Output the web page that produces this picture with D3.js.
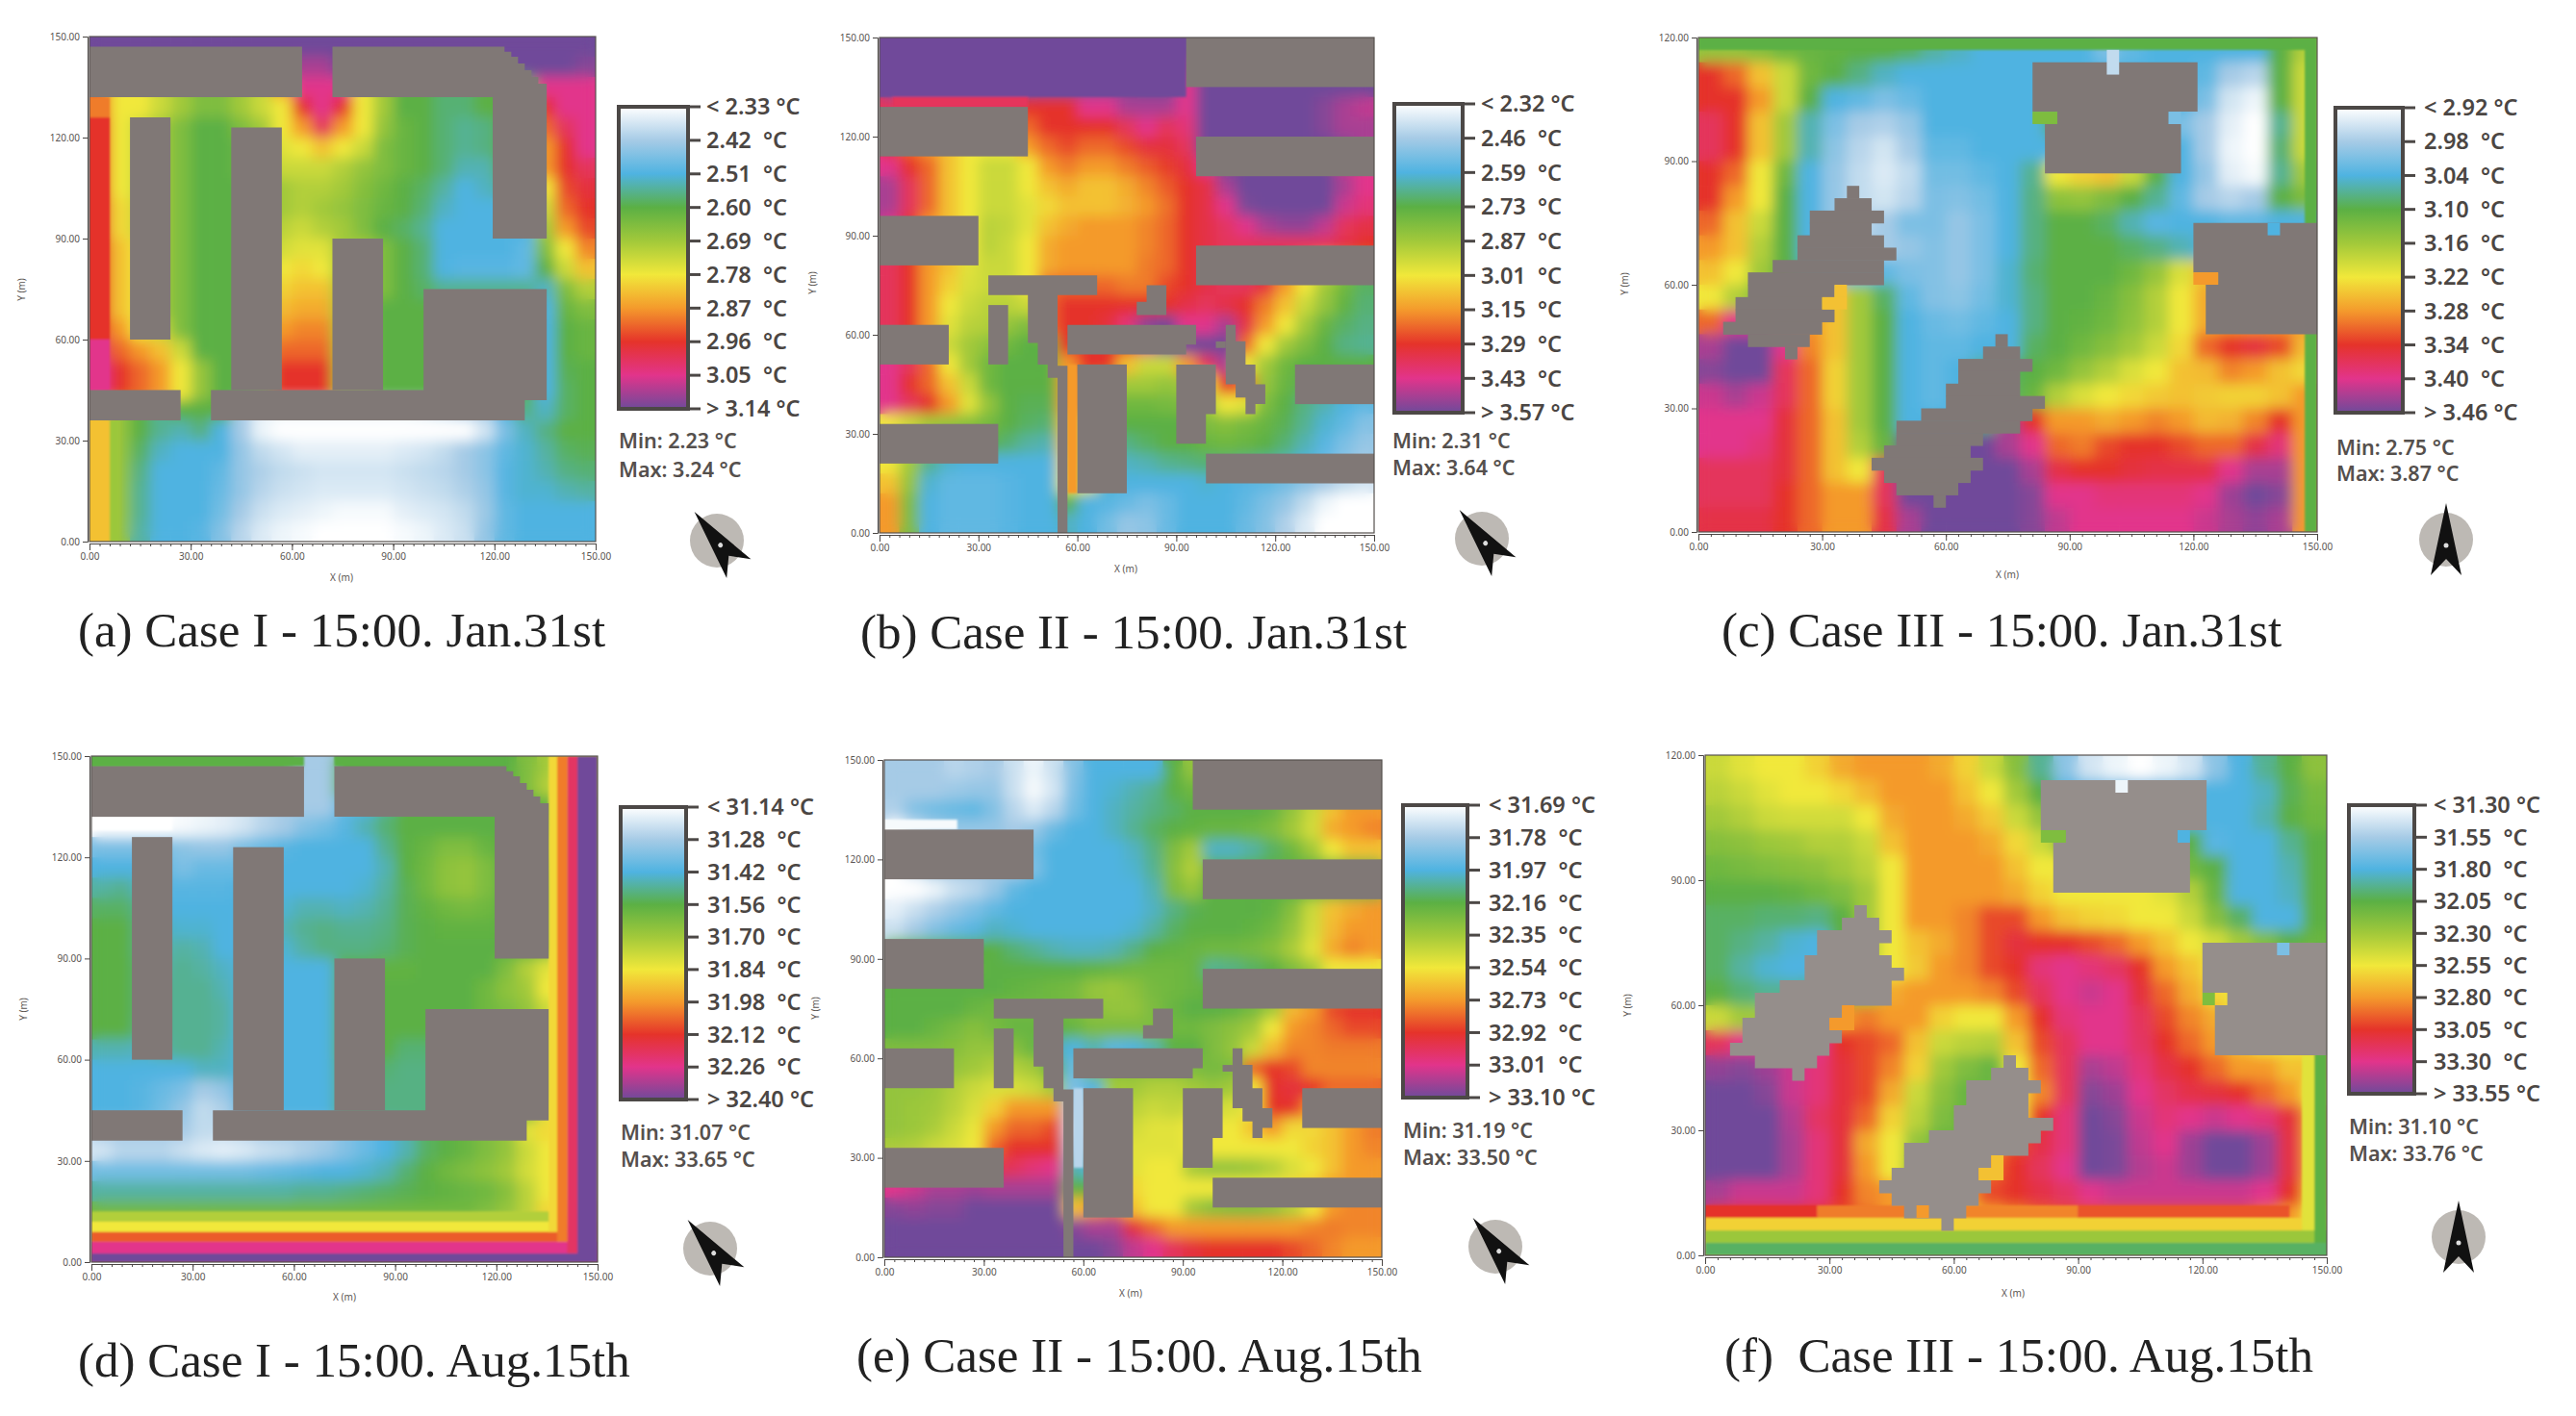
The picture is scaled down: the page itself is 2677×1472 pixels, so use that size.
<!doctype html>
<html lang="en">
<head>
<meta charset="utf-8">
<title>Air temperature maps, Case I to III</title>
<style>
body { margin: 0; background: #fff; }
svg { display: block; }
.axis text { font-family: "Noto Sans", sans-serif; font-size: 10px; fill: #5a5552; }
.axis path, .axis line { stroke: #4a4644; }
.title { font-family: "Noto Sans", sans-serif; font-size: 10px; fill: #5a5552; text-anchor: middle; }
.lg { font-family: "Noto Sans", sans-serif; font-size: 23.5px; font-weight: 600; fill: #4b4643; white-space: pre; }
.mm { font-family: "Noto Sans", sans-serif; font-size: 21.5px; font-weight: 600; fill: #55504d; }
.cap { font-family: "Liberation Serif", serif; font-size: 51px; fill: #222; white-space: pre; }
</style>
</head>
<body>
<svg id="fig" width="2677" height="1472"></svg>
<script src="https://d3js.org/d3.v7.min.js"></script>
<script>
// grids: reading of each 6 m cell as a position on that panel's legend,
// 0 = first tick (white end), 9 = last tick (purple end). Rows run from the top of the plot down.
var gridA = [
[9,9,9,9,9,9,9,9,9,9,9,9,9,9,9,9,9,9,9,9,9,9,9,9,9],
[9,9,9,9,9,9,9,9,9,9,8.5,8.5,9,9,9,9,9,9,9,9,9,9,9,9,8.8],
[6.5,5,5,4.5,4,3.5,3.5,4,4.5,6,8,8,8,5,4,3,3,2.7,2.7,3,3,3,8,8,8],
[6.5,5,5,4.5,4,3.5,3.5,4,4.5,5,7,8,7,5,4,3,3,2.7,2.7,3,3,3,7,8,8],
[7,5,4.5,4,3.5,3,3,3.5,4,5,6,7.5,6,5,3.8,3.2,3,2.7,2.5,2.6,3,3,6.5,7.5,8],
[7,5,4.5,4,3.5,3,3,3.2,3.5,4.8,5,5.5,5,4.5,3.5,3.2,3,2.7,2.5,2.6,3,3,6,7,8],
[7,5,4.5,4,3.5,3,3,3.2,3.5,4.5,4.5,4.5,4.2,3.8,3.5,3.2,3,2.7,2.3,2.3,3,3,6,7,7.5],
[7,5,4.5,4,3.5,3,3,3,3.5,4,4.2,4.2,4,3.6,3.3,3,2.8,2.4,2,2.2,2.5,2.5,5,6.8,7.2],
[7,5.2,4.5,4,3.5,3,3,3,3.5,4,4.2,4,3.8,3.5,3.2,3,2.7,2.2,2,2,2,2,4.5,6.5,7],
[7,5.2,4.5,4,3.5,3,3,3,3.5,4.3,4.5,4.2,4,3.5,3,2.8,2.5,2,2,2,2,2,4,6,6.8],
[7,5.5,5,4,3.5,3,3,3,3.5,4.6,4.8,4.8,4,4,3.5,3,2.7,2,2,2,2,1.8,3.5,5,6.2],
[7,5.5,5,4,3.5,3,3,3,3.5,5,5.2,5,4,4,3.5,3,2.7,2,1.9,1.9,1.9,1.8,3,4.5,5.5],
[7,5.5,5,4,3.5,3,3,3,3.5,5.3,5.5,5.5,4,4,3.5,3,2.8,2.5,2.5,2.5,2.5,2.5,2.2,3.5,4.2],
[7,5.5,5,4,3.5,3,3,3,3.5,5.6,5.8,5.8,4,4,3,3,3,3,3,3,3,3,2,3.2,3.5],
[7,6,5,4.5,3.5,3,3,3,3.5,6,6.2,6.2,4,4,3,3,3,3,3,3,3,3,2,3,3.2],
[7.5,6.5,6,5.5,4.5,3,3,3,3.5,6.5,6.5,6.5,4,4,3,3,3,3,3,3,3,3,2,3,3.2],
[8,7,6.5,6,5,3.8,3,3,3.5,7,7,7,4,4,3,3,3,3,3,3,3,3,2,2.9,3],
[8,7,6.5,6,5,3.8,3,3,3.5,7,7,7,4,4,3,3,3,3,3,3,3,3,2,2.8,3],
[5.5,3.8,3,2.5,3,3,3,1,0.3,0.2,0.2,0.2,0.2,0.2,0.2,0.2,0.3,0.5,0.8,1,2,2.6,2.2,2.8,3],
[5.5,3.8,3,2.5,2.3,2.6,2,1,0.2,0,0,0,0,0,0,0,0,0,0,0.5,1.5,2.2,2.6,3,3],
[5.5,3.8,2.8,2.2,2,2,2,1.2,0.7,0.5,0.3,0.3,0.3,0.3,0.3,0.4,0.5,0.7,1,1.3,1.8,2.1,2.4,2.8,2.9],
[5.5,3.8,2.6,2,2,2,1.8,1.2,0.9,0.7,0.6,0.5,0.5,0.5,0.5,0.6,0.7,0.8,1,1.3,1.9,2.1,2.3,2.6,2.7],
[5.5,3.8,2.5,2,2,2,1.7,1.2,0.8,0.6,0.5,0.4,0.4,0.4,0.4,0.5,0.6,0.7,0.9,1.2,1.9,2.1,2.1,2.3,2.4],
[5.5,3.8,2.5,2,2,2,1.6,1,0.6,0.4,0.3,0.2,0.1,0.1,0.1,0.3,0.4,0.5,0.7,1.1,1.8,2,2,2,2],
[5.5,3.8,2.4,2,2,1.9,1.4,0.8,0.4,0.2,0.1,0,0,0,0,0.1,0.2,0.4,0.6,1.2,1.8,2,2,2,2]
];
var gridB = [
[9,9,9,9,9,9,9,9,9,9,9,9,9,9,9,9,9,9,9,9,9,9,9,9,9],
[9,9,9,9,9,9,9,9,9,9,9,9,9,9,9,8.5,9,9,9,9,9,9,9,9,9],
[9,9,9,9,9,9,9,9,8.8,8.8,8.8,8.8,8.8,9,9,8,9,9,9,9,9,9,9,9,9],
[7.5,7.5,7.5,7.5,7.5,7.5,7.5,7,7,7,8,8,8.5,8.5,8.5,8,9,9,9,9,9,9,8.8,8.5,8.3],
[7.5,7.5,7.5,7.5,7.5,7,6.8,6.5,7,7,7,7,7.5,8,7.5,7.8,9,9,9,9,9,9,8.8,8.5,8.5],
[7,6.5,6,5.5,5,5,5,6,6.5,6.8,6.5,6.5,6.8,7.2,7.2,7.5,9,9,9,9,9,9,9,8.8,8.5],
[8,7,6.5,5.5,5,4.5,4.5,5,6,6.3,6,6,6.3,6.6,6.9,7.2,8,9,9,9,9,9,9,8.3,8],
[8.5,7.5,6.5,5.5,5,4.5,4.5,5,5.5,5.8,5.5,5.5,5.8,6.2,6.6,7,7.3,8.5,9,9,9,9,9,8.5,8],
[8.5,7.5,6.5,5.5,5,4.5,4.5,4.8,5.2,5.5,5.5,5.5,5.7,6,6.4,7,7.3,8,8.9,9,9,9,9,8.2,7.8],
[8,7,6,5.5,5,4.3,4.4,4.8,5.5,5.8,6,6,6,6.2,6.5,7,7.3,7.6,8,8.5,8.7,8.7,8.3,7.5,7.3],
[8,7,6,5.5,5,4.3,4.5,5,5.8,6,6,6,6,6.2,6.5,7,7.3,7.5,7.5,7.5,7.5,7.5,7.5,7.3,7],
[7.5,7,6,5.5,4.8,4.5,4.5,5,5.8,6,6,6,6,6.3,6.5,7,7.3,7.5,7.5,7.5,7,6,5,4,3],
[7.5,7,6,5.3,4.7,4.5,4.5,5,6.5,6.5,6.5,6.5,6.3,6.3,6.8,7,7.3,7.5,7.5,7.2,6,5,4,3.3,2.8],
[7.5,7,6,5,4.5,4.3,4.3,4.5,6.5,7,7,7,7,7,7,7.3,7.5,7.3,7,6.3,5.5,4.5,3.8,3.1,2.7],
[7.5,7,6,4.8,4.3,4.2,3.8,3.5,6.5,7,7,7.2,7.8,8.8,9,8,8,8.5,7.3,6,5,4,3.2,2.8,2.6],
[7.5,7,6,4.5,4,3.7,3.3,3,3,7,7,7,7,8,9,9,9,9,6.5,5,4,3.5,3,2.6,2.5],
[8,7.5,6.5,5,4,3.3,3,3,3,6,7,7,5.5,4.5,4.5,6,7.5,8.5,5,4,3.3,3,3,3,3],
[8,7,6.5,5.5,4.5,3.3,3,3,3,6,6,4,4,4,3.8,4,5,7,6.5,3.8,3.2,2.9,2.9,2.9,2.9],
[8,7.5,7,6,4.8,3.8,3,2.9,2.9,6,6,3.5,3.3,3.3,3.4,3.5,4,5,4.8,3.5,3,2.6,2.3,2,1.8],
[5,4.5,4,3.8,3.6,3.4,3,2.8,2.7,5.5,5,3,3,3,3,3,3.5,3.6,3.4,3.2,2.9,2.5,2.1,1.8,1.4],
[4.5,4,3.5,3,3,3,2.7,2.4,2.3,5.5,5,2.6,2.6,2.8,3,3,3.2,3.3,3.2,3,2.7,2.3,1.9,1.5,1.2],
[5,4,2.5,2.1,2,2,2,2,2,5.2,5,2.2,2.2,2.3,2.5,2.6,2.7,2.7,2.6,2.5,2.3,2,1.7,1.3,1],
[5.5,3.8,2.1,1.8,1.8,1.8,1.9,2,2,5,4.8,2.1,2,2,2,2,2.1,2,1.9,1.8,1.6,1.3,1,0.7,0.5],
[6,3.5,2,1.8,1.8,1.8,1.9,2,2,3,2,1.9,1.7,1.5,1.7,2,2,2,1.8,1.5,1.2,0.7,0.2,0,0],
[6,3.5,2,1.8,1.8,1.8,1.9,2,2,2.2,2,1.6,1.2,1.3,1.7,2,2,2,1.7,1.4,0.9,0.4,0,0,0]
];
var gridC = [
[3.8,3.8,3.6,3.3,3.2,3.1,3,3,2.8,2.4,2.2,2,2,2,2,2,1.5,1.8,2,2,2,2,2,3,4.2],
[7,6.5,5.5,4.5,3.3,3,2.6,2.2,2,2,2,2,2,2,2,2,2,2,2,2,1.8,1,0.8,3,4.5],
[7,7,6,4.5,3,2,1.8,1.5,1.7,2,2,2,2,2,2,2,2,2,2,2,1.5,0.5,0.2,3,4.5],
[7.5,7,5.5,4,2.3,1.5,1,0.9,1.2,2,2,2,2,2,3,2,2,2,2,1.5,1,0.3,0,2.5,4.5],
[7.5,7,5.5,4,2.3,1.3,0.8,0.5,1,1.8,1.8,2,2,2,2,2,2,2,2,2,1,0.2,0,2.7,4.5],
[7,6.5,5,3.3,2,1.2,0.7,0.4,0.7,1.6,1.6,1.8,2,2.5,5,5.3,5.5,4.5,3,2,1.2,0.3,0.1,2.5,4],
[7,6,5,3,2,1.2,0.7,0.5,0.8,1.5,1.4,1.6,2,2.6,3.7,3.8,3.5,3,2.5,1.8,1,0.8,1,3,3.5],
[6.5,5.5,4.5,3,2,1.2,0.7,1,1.5,1.5,1.2,1.5,2,2.6,3,3,2.8,2.3,1.9,2,2,1.8,1.8,2,2],
[6,5.5,4.2,3,2,1.2,1,1,1.2,1.4,1.2,1.5,2,2.6,3,3,3,2.8,2.6,2.3,2,2,2,2,2],
[5.5,5,4,3,2.2,2,1.8,1.8,1.5,1.4,1.2,1.5,2.1,2.7,3,3,3,3.3,3.8,4.7,5.5,5.5,5.5,5.5,5.5],
[5,4.2,3.5,3.5,4,5.5,4,2.8,1.8,1.4,1.3,1.6,2.1,2.6,3,3,3.2,3.6,4.2,5,5.8,5.8,5.8,5.8,5.8],
[6.5,8,8,6,6,5.5,4,3,2,1.7,1.6,1.8,2,2.6,3,3.1,3.3,3.7,4.2,5,5.8,6,6,6,6],
[8.5,9,9,8,6.2,5.5,4,3,2,1.8,1.8,2,2,2.8,3,3.3,3.6,4,4.5,5.2,6.5,7,7.2,6.8,5.6],
[8.8,9,9,7.5,6.5,5.3,4,3,2,1.8,2,2.5,2.8,3,3.3,3.8,4.2,4.7,5,5.5,5.6,6.2,6,5.5,5.2],
[8.2,8.5,8.2,7.5,6.5,5.3,4,3,2,1.8,2,2.5,2.8,3.2,4.2,4.7,5,5.2,5.4,5.5,5.4,5.3,5.3,5.5,6],
[8,8,8,7.2,6.5,5.5,4,3,2,2,2,2.8,8.5,7,6,6,5.8,6,6.2,6,5.6,5.7,6.2,7,6],
[8,8,7.8,7.2,6.5,5.5,4.2,3.2,9,9,9,9,8.5,8,6.5,6.3,6.8,7,7,6.8,6.5,6.5,7.3,7.8,6],
[7.5,7.5,7.5,7.2,6.5,5.5,5,7.5,9,9,9,9,9,8.5,7.3,7,7,7.2,7.3,7.3,7.3,8,8.5,8.5,6],
[7.5,7.5,7.5,7,6.5,6,6,7.5,9,9,9,9,9,8.8,8,8,7.8,7.8,7.8,7.8,8,8.6,9,8.8,6],
[7.3,7.3,7.3,7,6.5,6,6,7.3,8.5,9,9,9,9,8.8,8.3,8,8,8,8,8,8.2,8.5,8.7,8.5,6]
];
var gridD = [
[3,3,3,3,3,3,3,3,3,3,1,1,3,3,3,3,3,3,3,3,3,3.5,4,5,5],
[0,0,0,0,0.1,0.2,0.3,0.5,0.8,1,1,1,3,3,3,3,3,3,3,3,3,3.5,4.2,5,5],
[0,0,0,0,0.1,0.2,0.3,0.5,0.8,1,1,1,1.8,2,2.5,3,3,3,3,3,3,3,3,4.5,4.5],
[0,0,0,0,0.1,0.2,0.3,0.5,0.8,1,1.4,1.6,1.9,2.3,2.7,3,3,3,3,3,3,3,3.5,4.5,4.5],
[1.5,1.5,1.5,1.5,1.3,1.2,1.2,1.5,1.7,1.9,2,2,2,2,2.5,3,3.2,3.5,3.5,3.2,3,3,4,4.5,4.5],
[2,2,2,1.8,1.5,1.7,1.7,1.7,1.9,2,2,2,2,2,2.3,3,3.3,3.7,3.8,3.5,3,3,3.5,4.5,4.5],
[2.4,2.5,2.2,1.9,1.9,1.9,1.9,2,2,2,2,2,2,2.1,2.4,2.9,3.3,3.7,3.8,3.5,3,3,3.2,4.5,4.5],
[2.8,2.8,2.5,2,2,2,2,2,2,2.1,2.3,2.3,2.2,2.3,2.5,2.9,3.1,3.3,3.4,3.3,3,3,3.2,4.5,4.5],
[3,3,2.6,2.2,2.1,2.1,2,2,2,2.3,2.5,2.6,2.5,2.5,2.6,2.9,3,3.1,3.1,3.1,3,3,3.3,4.5,4.5],
[3,3,2.6,2.3,2.4,2.3,2,2,2,2.1,2.4,2.6,2.6,2.6,2.7,2.9,3,3,3,3,3,3,3.3,4.5,4.5],
[3,3,2.7,2.4,2.5,2.4,2.2,2,2,2,2,2,3,3,3.1,3.1,3,3,3,3,3.5,4.2,4.8,5,5],
[3,3,2.7,2.5,2.5,2.5,2.3,2,2,2,2,2,3,3,3,3,3,3,3,3.3,3.7,4,5,5,5],
[3,3,2.7,2.5,2.5,2.5,2.4,2,2,2,2,2,3,3,3,3,3,3,3,3.3,3.5,3.8,4.5,5,5],
[3,3,2.6,2.5,2.5,2.5,2.4,2,2,2,2,2,3,3,3,3,3,3,3,3,3,3,4.5,5,5],
[2.3,2.3,2.2,2.4,2.5,2.5,2.3,2,2,2,2,2,3,3,3,2.7,2.7,3,3,3,3,3,4.5,5,5],
[2,2,2,2,2,2.2,2.2,2,2,2,2,2,2.7,2.7,2.7,2.6,2.6,3,3,3,3,3,4.5,5,5],
[2,2,1.9,1.7,1.5,1,1.2,2,2,2,2,2,2.6,2.6,2.6,2.6,2.6,3,3,3,3,3,4.5,5,5],
[2,2,1.9,1.6,1.2,0.7,0.9,1.8,2,2,2,2,2.6,2.6,2.6,2.6,2.6,3,3,3,3,3,4.8,5,5],
[1,1,1,1,1,0.7,0.7,0.8,1,1,1,1,1.4,1.7,2,2.3,2.8,3,3.2,3.5,3.8,4.8,5.2,5,5],
[0.5,0.8,0.8,0.8,0.6,0.4,0.3,0.4,0.6,0.7,0.9,1.1,1.4,1.7,2,2.3,2.8,3,3.2,3.5,3.8,4.5,5,5,5],
[1.6,1.6,1.6,1.6,1.6,1.6,1.6,1.6,1.7,1.8,1.9,2,2,2.1,2.3,2.7,3,3.3,3.5,3.7,4,4.6,5,5,5],
[2.4,2.4,2.4,2.4,2.4,2.4,2.4,2.4,2.4,2.4,2.5,2.5,2.6,2.7,2.8,2.9,3,3.1,3.2,3.3,3.6,4.3,5,5,5],
[3.3,3.3,3.3,3.3,3.3,3.3,3.3,3.3,3.3,3.3,3.3,3.3,3.3,3.3,3.3,3.3,3.3,3.3,3.3,3.5,3.8,4.3,5.2,5.5,5.5],
[5,5,5,5,5,5,5,5,5,5,5,5,5,5,5,5,5,5,5,5,5,5.3,5.5,6,6],
[8,8,8,8,8,8,8,8,8,8,8,8,8,8,8,8,8,8,8,8,8,8,8,8,8]
];
var gridE = [
[1,1,1,0.8,0.9,1,0.6,0.2,0.6,1.4,2,2,2,2,3,3.8,3,3,3,3,3,3,3,3,3],
[1,1,1,1.1,1.2,1.2,0.6,0.1,0.5,1.5,2,2.1,2.3,2.5,3,3.3,3,3,3,3,3,3,3,3,3],
[0.9,1.4,1.6,1.7,1.8,1.4,0.8,0.4,0.8,1.6,2,2.2,2.4,2.6,2.8,3,3,3,3,3.2,3.8,4.5,5.5,6,6],
[0,0.6,1,1.2,1.2,1.2,1,1.2,1.7,2,2,2.2,2.5,2.8,3,3.1,3.2,3.2,3.3,3.5,4,4.6,5.8,6,6.2],
[0,0.5,1,1.2,1.2,1.2,1.2,1.6,2,2,2,2,2.2,2.6,3.5,4,2.2,2.2,2.4,2.8,3.3,4,5,5.5,5.5],
[0,0.5,1,1,1,1,1,1.5,2,2,2,2,2.1,2.5,3.6,4.2,3,3,3,3,3,3,3,3,3],
[0,0,0.2,0.6,0.8,1.2,1.8,2,2,2,2,2,2,2.3,3.5,3.8,3,3,3,3,3,3,3,3,3],
[0.3,0.6,0.9,1.2,1.5,1.8,2,2,2,2,2,2,2,2.2,2.6,2.9,3,3,3,3.1,3.6,4.5,5.5,5.8,6],
[0.6,1,1.4,1.7,1.9,2.2,2.1,2,2,2,2,2,2.1,2.4,2.8,3,3,3,3.1,3.3,3.8,4.6,5.6,6,6],
[3,3,3,3,3,3,2.7,2.5,2.3,2.2,2.2,2.3,2.6,3,3.1,3.2,3.3,3.3,3.4,3.6,4.1,4.8,5.8,6.2,6],
[3,3,3,3,3.1,3,3,3,3,3,3.1,3.2,3.3,3.3,3.3,3.2,2.5,2.6,2.8,3,3.5,4,5,5,5],
[3,3,3,3,3,3,3.1,3.2,3.3,3.4,3.8,3.9,3.7,3.4,3.3,3.2,3,3,3,3,3,3,3,3,3],
[3,3,3,3,3.2,3.3,3.3,3.3,3.3,3.4,3.7,3.8,3.8,3.5,3.2,3,3,3.1,3.4,4,5.6,6,6.8,7,7],
[3,3,3.2,3.4,3.6,3.4,3.2,3.2,3,3.2,3.5,3.5,3.5,3.5,3.3,3.3,3.5,3.7,4,5,6,6.2,6.5,6.8,6.8],
[3.5,3.5,3.5,3.6,3.8,3.8,3.6,3.2,2.3,2,2.3,1.9,2,2.3,3,3,3.5,3.8,4.5,5.6,6.2,6.2,6.3,6.3,6.3],
[3.8,3.8,3.8,3.8,4,4.2,4.2,4,3,1.7,3.6,3.6,3.6,3.6,3.6,3.5,3.4,3.5,6.5,7,6.8,6.2,6.2,6.2,6.2],
[3.8,3.8,3.9,4.2,4.5,4.7,4.7,4.5,4,1.5,2,4,4,4.2,4.2,4,3.8,4,5,7,7.2,7,6.5,6.5,6.5],
[3.8,3.9,4,4.3,4.7,5.3,6,6,6,1,1,4.2,4.3,4.5,4.4,4.5,4.5,4.7,5,7,7,6,5.5,5.5,5.5],
[3.8,3.9,4.1,4.5,4.9,6,6.5,6.5,6.8,0.6,1,4.5,4.6,4.8,4.8,5,5,5,5.5,6,5.2,5.2,5.5,6,6.3],
[4.1,4.2,4.5,4.7,5,6.5,7,7,7,1,1,4.8,4.8,4.8,4.8,5,5,5,5,5,5,5.3,5.5,6,6.2],
[8,8,8,8,8,7.3,7.5,7.8,8,2.3,2,5,4.8,5,5,4,3.8,3.8,3.9,4.2,4.7,5,5.5,6,6],
[8,8.2,8.5,8.5,8.6,8.5,8.5,8.5,8.5,3,3,6,5.2,5,5,5,5,5,5,5,5.2,5.5,6,6,6],
[8.8,8.7,8.8,8.8,9,9,9,9,9,5.5,6,6.3,5.5,5,5,4,3.6,3.5,3.5,3.7,4.2,5,6,6.2,6.2],
[9,9,9,9,9,9,9,9,9,8.8,8.5,8.5,7.2,6.5,6,6,6,6,6,6,6,6.2,6.3,6.2,6.2],
[9,9,9,9,9,9,9,9,9,9,9,8.8,8.3,8,7.5,7.2,7,7,7,7,6.8,6.5,6.2,6,6]
];
var gridF = [
[4.5,4.8,5,5,5.3,5.8,6,6,6,5.8,5.3,4.5,3.6,2.5,1.3,0.5,0.2,0,0.2,0.5,1.3,2,2.5,3,3.7],
[4.3,4.5,4.8,5,5,5.2,5.6,6,6,6,5.5,5,4,3,2,2,2,2,2,2,2,2,2.2,2.9,3.4],
[4,4.2,4.5,4.6,4.6,4.6,5,5.8,6,6,5.8,5.4,4.5,3.8,3,3,2.5,2.5,2,2,2,2,2.3,3,3.3],
[3.6,3.7,3.9,4,4.2,4.2,4.5,5.5,6,6,6,5.8,5.2,4.5,3.5,3.5,3,3,3,3,1.9,2,2,2.5,3],
[3.3,3.4,3.5,3.6,3.7,4,4.3,5,6,6,6,6,5.5,5,5,5,4.5,4,3.5,3.3,3,2,2,2.3,3],
[3,3,3,3.1,3.3,3.5,4,5,6,6,6,6,5.8,5.3,5,5,5,5,4.8,4.2,3.2,2,2,2.2,3],
[2.8,2.8,2.7,2.7,2.6,3,4,5,6,6,6.2,6.8,6.8,6,5.5,5.3,5.2,5,5,4.5,3.6,2.8,2,2,3],
[2.8,2.6,2.4,2.1,2,3,4,5,5.5,5.8,6.2,6.8,7.2,7,7,6.8,6.5,6,5.5,5,4.6,4,3.5,3,3.2],
[2.8,2.4,2.1,2,2,2,4,5,5.4,6,6.2,6.8,7,7.8,8,7.8,7.6,7,6,5.5,5,5,5,5,5],
[3,2.7,2.5,2.5,3,3,4,5.8,6,6,6,6.2,6.8,7.5,8,8.2,8,7.2,6.5,5.8,5.2,5,5,5,5],
[4.5,4,4,4.5,6,6,6.3,6,6,5.3,5,5,6,7,7.8,8,8,7.5,6.8,6.2,5.8,5,5,5,5],
[7.5,8,8,8,8,7,6.8,6.5,5.5,4.5,4.3,4.2,5.5,6.8,7.5,8,8,7.6,7,6.5,6,5.5,5,5,5],
[8.7,8.8,8.6,8.2,7.8,7.2,6.8,6.2,5.3,4,3.5,3.2,5,6.5,7.5,8.5,8.3,7.8,7.3,7,6.5,6,6,5.5,5.5],
[9,9,8.8,8.2,7.8,7.2,6.8,5.8,4.5,3.7,3.2,3.2,5,6.2,7.5,8.8,8.6,8,7.6,7.3,7.2,7,6.5,6,5],
[9,9,9,8.4,7.6,7.2,6.5,5.3,4.3,3.5,3.2,3.2,5,7,7.8,9,8.8,8.2,7.8,8,8.2,8,7.8,7.2,5.8],
[9,9,9,8.5,7.8,7.2,5.8,5,3.8,3.2,3.2,6,6.8,7.3,7.8,9,8.9,8.3,8,8.6,9,9,8.6,7.3,5.8],
[9,9,9,8.5,7.8,7.2,6,5,3.5,3.5,5.5,6.5,7,7.5,8,9,8.9,8.4,8.2,8.6,9,9,8.6,7.3,5.8],
[8.5,8.2,8.2,8.2,7.8,7,6.2,6,6,6,6,6.8,7,7.3,7.6,8,8.2,8.2,8.2,8.2,8.2,8.2,8,7,5.5],
[7,7,7,7,7,6.8,6.4,6,6,5.5,5.5,6,6.3,6.6,6.8,6.8,6.8,6.8,6.8,6.8,6.8,6.8,6.5,6,5],
[5,4.5,4.3,4.3,4.3,4.3,4.4,4.4,4.4,4.4,4.4,4.4,4.4,4.4,4.4,4.4,4.4,4.4,4.4,4.4,4.4,4.4,4.4,4,3.2]
];

// sharp bands the 6 m grid cannot hold: [x0, y0, x1, y1, legend position]
var bandsA = [[0,0,6,36,5.5],[6,0,9,36,3.9],[0,60,6,126,7],[0,45,6,60,8],[0,126,6,132,6.3]];
var bandsB = [[0,132,93,150,9],[4,129,45,132,7.5],[57,12,60,51,6]];
var bandsC = [[0,117,150,120,3],[147,0,150,120,3]];
var bandsD = [[0,147,63,150,3],[72,147,123,150,3],[0,128,24,132,0],
  [0,0,150,2.6,9],[144,0,150,150,9],[0,2.6,144,6,8],[141,2.6,144,150,7.6],
  [0,6,141,9,6.6],[138,6,141,150,6.3],[0,9,138,12,5],[135.5,9,138,150,5.2],[0,12,135.5,15,4.2]];
var bandsE = [[0,129,22,132,0.1],[57,27,60,51,0.8]];
var bandsF = [[0,0,150,3,2.8],[147,3,150,75,3],[0,3,147,6,3.9],[144,6,147,48,4.8],[0,6,144,9,5.3],
  [0,9,27,12,7],[27,9,57,12,6.3],[57,9,90,12,6.2],[90,9,141,12,6.7]];

// small openings that show on top of the buildings
var notchesC = [[99,111,102,117,0.7],[138,72,141,75,2],[120,60,126,63,6],[30,54,36,57,5.5],[33,57,36,60,5.5],[81,99,87,102,3.5],[114,99,117,102,1.5]];
var notchesF = [[99,111,102,114,0.2],[138,72,141,75,1.5],[120,60,123,63,3.5],[81,99,87,102,3.5],[114,99,117,102,2],[30,54,36,57,6],[33,57,36,60,6],[66,18,72,21,5.5],[69,21,72,24,5.5],[51,9,54,12,6]];

// building footprints in metres
var rectsI = [[0,132,63,147],[12,60,24,126],[42,45,57,123],[72,45,87,90],[0,36,27,45]];
var polysI = [
  [[72,147],[123,147],[123,145.5],[125,145.5],[125,144],[127,144],[127,142],[129,142],[129,140],[131,140],[131,138],[133,138],[133,136],[135.5,136],[135.5,90],[119.5,90],[119.5,132],[72,132]],
  [[99,75],[135.5,75],[135.5,42],[129,42],[129,36],[36,36],[36,45],[99,45]]
];
var rectsII = [[93,135,150,150],[0,114,45,129],[96,108,150,120],[0,81,30,96],[96,75,150,87],[33,51,39,69],[0,51,21,63],[0,21,36,33],[60,12,75,51],[102,56,105,58],[126,39,150,51],[99,15,150,24]];
var polysII = [
  [[33,78],[66,78],[66,72],[54,72],[54,50.6],[57,50.6],[57,0],[54,0],[54,47],[51,47],[51,51],[48,51],[48,57.5],[45,57.5],[45,72],[33,72]],
  [[57,63],[96,63],[96,57],[93,57],[93,54],[57,54]],
  [[78,66],[87,66],[87,75],[81,75],[81,70],[78,70]],
  [[90,51],[102,51],[102,36],[99,36],[99,27],[90,27]],
  [[105,63],[108,63],[108,58],[111,58],[111,51],[114,51],[114,45],[117,45],[117,39],[114,39],[114,36],[111,36],[111,41],[108,41],[108,45],[105,45]]
];
var polysIII = [
  [[81,114],[121,114],[121,102],[114,102],[114,99],[117,99],[117,87],[84,87],[84,99],[87,99],[87,102],[81,102]],
  [[120,75],[150,75],[150,48],[123,48],[123,60],[126,60],[126,63],[120,63]]
];
// stepped blocks of Case III, one 3 m row each: [bottom y, x0, x1]
var rowsIII = [
  [81,36,39],[78,33,42],[75,27,45],[72,27,42],[69,24,45],[66,24,48],[63,18,45],[60,12,45],[57,12,33],[54,9,30],[51,9,33],[48,6,30],[45,12,27],[42,21,24],
  [45,72,75],[42,69,78],[39,63,81],[36,63,78],[33,60,78],[30,60,84],[27,54,81],[24,48,78],[21,48,69],[18,45,66],[15,42,69],[12,45,66],[9,48,63],[6,57,60]
];

// legends
var ticksA = [2.33,2.42,2.51,2.60,2.69,2.78,2.87,2.96,3.05,3.14];
var ticksB = [2.32,2.46,2.59,2.73,2.87,3.01,3.15,3.29,3.43,3.57];
var ticksC = [2.92,2.98,3.04,3.10,3.16,3.22,3.28,3.34,3.40,3.46];
var ticksD = [31.14,31.28,31.42,31.56,31.70,31.84,31.98,32.12,32.26,32.40];
var ticksE = [31.69,31.78,31.97,32.16,32.35,32.54,32.73,32.92,33.01,33.10];
var ticksF = [31.30,31.55,31.80,32.05,32.30,32.55,32.80,33.05,33.30,33.55];
var stopColours = ["#ffffff","#a6cbe6","#4fb3e1","#5bb044","#a2c93a","#f1e83a","#f49a2c","#e5332a","#e2348b","#6f4a9a"];

var axisTicks = [0,30,60,90,120,150];
var yTicksShort = [0,30,60,90,120];

var panels = [
  {grid:gridA, bands:bandsA, notches:[], rects:rectsI, polys:polysI, rows:[], ticks:ticksA, min:"2.23", max:"3.24", cap:"(a) Case I - 15:00. Jan.31st",
   box:[93,619,38,563], bar:[643,715,111,425], lab:734, mm:[643,458,488], north:[745,562,-38], xt:[355,604], yt:[26,301], capAt:[81,672], bld:"#807876"},
  {grid:gridB, bands:bandsB, notches:[], rects:rectsII, polys:polysII, rows:[], ticks:ticksB, min:"2.31", max:"3.64", cap:"(b) Case II - 15:00. Jan.31st",
   box:[914,1428,39,554], bar:[1449,1520,108,429], lab:1539, mm:[1447,458,486], north:[1540,560,-38], xt:[1170,595], yt:[848,294], capAt:[894,674], bld:"#807876"},
  {grid:gridC, bands:bandsC, notches:notchesC, rects:[], polys:polysIII, rows:rowsIII, ticks:ticksC, min:"2.75", max:"3.87", cap:"(c) Case III - 15:00. Jan.31st",
   box:[1765,2408,39,553], bar:[2427,2497,112,429], lab:2519, mm:[2428,465,492], north:[2542,561,0], xt:[2086,601], yt:[1692,295], capAt:[1789,672], bld:"#807876", yMax:120},
  {grid:gridD, bands:bandsD, notches:[], rects:rectsI, polys:polysI, rows:[], ticks:ticksD, min:"31.07", max:"33.65", cap:"(d) Case I - 15:00. Aug.15th",
   box:[95,621,786,1312], bar:[645,713,839,1143], lab:735, mm:[645,1177,1205], north:[738,1298,-38], xt:[358,1352], yt:[28,1049], capAt:[81,1431], bld:"#807876"},
  {grid:gridE, bands:bandsE, notches:[], rects:rectsII, polys:polysII, rows:[], ticks:ticksE, min:"31.19", max:"33.50", cap:"(e) Case II - 15:00. Aug.15th",
   box:[919,1436,790,1307], bar:[1458,1525,837,1141], lab:1547, mm:[1458,1175,1203], north:[1554,1296,-38], xt:[1175,1348], yt:[851,1048], capAt:[890,1426], bld:"#807876"},
  {grid:gridF, bands:bandsF, notches:notchesF, rects:[], polys:polysIII, rows:rowsIII, ticks:ticksF, min:"31.10", max:"33.76", cap:"(f)  Case III - 15:00. Aug.15th",
   box:[1772,2418,785,1305], bar:[2441,2509,837,1137], lab:2529, mm:[2441,1171,1199], north:[2555,1286,0], xt:[2092,1348], yt:[1695,1045], capAt:[1792,1426], bld:"#958e8b", yMax:120}
];

var svg = d3.select("#fig");
var defs = svg.append("defs");
defs.append("filter").attr("id","soft").attr("x","-5%").attr("y","-5%").attr("width","110%").attr("height","110%")
  .append("feGaussianBlur").attr("stdDeviation",7);
defs.append("filter").attr("id","edge").attr("x","-5%").attr("y","-5%").attr("width","110%").attr("height","110%")
  .append("feGaussianBlur").attr("stdDeviation",1);

panels.forEach(function(p, n) {
  var yMax = p.yMax || 150;
  var x = d3.scaleLinear().domain([0,150]).range([p.box[0],p.box[1]]);
  var y = d3.scaleLinear().domain([0,yMax]).range([p.box[3],p.box[2]]);
  var toTemp = d3.scaleLinear().domain(d3.range(10)).range(p.ticks);
  var colour = d3.scaleLinear().domain(p.ticks).range(stopColours).clamp(true);
  var g = svg.append("g");

  defs.append("clipPath").attr("id","plot"+n).append("rect")
    .attr("x",p.box[0]).attr("y",p.box[2]).attr("width",p.box[1]-p.box[0]).attr("height",p.box[3]-p.box[2]);
  var plot = g.append("g").attr("clip-path","url(#plot"+n+")");

  var cells = [];
  p.grid.forEach(function(row, j) {
    row.forEach(function(v, i) { cells.push({i:i, j:j, v:v}); });
  });
  function drawCells(sel) {
    sel.selectAll("rect").data(cells).join("rect")
      .attr("x",function(d){ return x(d.i*6); })
      .attr("y",function(d){ return y(yMax-d.j*6); })
      .attr("width",x(6)-x(0)+0.6)
      .attr("height",y(0)-y(6)+0.6)
      .attr("fill",function(d){ return colour(toTemp(d.v)); });
  }
  // plain copy under the blurred one so the plot edges stay solid
  plot.append("g").call(drawCells);
  plot.append("g").attr("filter","url(#soft)").call(drawCells);

  function drawBoxes(sel, list) {
    sel.selectAll("rect").data(list).join("rect")
      .attr("x",function(d){ return x(d[0]); })
      .attr("y",function(d){ return y(d[3]); })
      .attr("width",function(d){ return x(d[2])-x(d[0]); })
      .attr("height",function(d){ return y(d[1])-y(d[3]); })
      .attr("fill",function(d){ return colour(toTemp(d[4])); });
  }
  plot.append("g").attr("filter","url(#edge)").call(drawBoxes, p.bands);

  var line = d3.line().x(function(d){ return x(d[0]); }).y(function(d){ return y(d[1]); });
  var bld = plot.append("g").attr("fill",p.bld);
  bld.selectAll("rect.r").data(p.rects).join("rect").attr("class","r")
    .attr("x",function(d){ return x(d[0]); })
    .attr("y",function(d){ return y(d[3]); })
    .attr("width",function(d){ return x(d[2])-x(d[0]); })
    .attr("height",function(d){ return y(d[1])-y(d[3]); });
  bld.selectAll("rect.s").data(p.rows).join("rect").attr("class","s")
    .attr("x",function(d){ return x(d[1]); })
    .attr("y",function(d){ return y(d[0]+3); })
    .attr("width",function(d){ return x(d[2])-x(d[1]); })
    .attr("height",y(0)-y(3)+0.5);
  bld.selectAll("path").data(p.polys).join("path").attr("d",function(d){ return line(d)+"Z"; });
  plot.append("g").call(drawBoxes, p.notches);

  // axes
  g.append("rect").attr("x",p.box[0]).attr("y",p.box[2]).attr("width",p.box[1]-p.box[0]).attr("height",p.box[3]-p.box[2])
    .attr("fill","none").attr("stroke","#55504e").attr("stroke-width",1.2);
  var ax = g.append("g").attr("class","axis").attr("transform","translate(0,"+(p.box[3]+2)+")");
  ax.call(d3.axisBottom(x).tickValues(axisTicks).tickSize(7).tickFormat(d3.format(".2f")));
  ax.append("g").call(d3.axisBottom(x).tickValues(d3.range(0,151,3)).tickSize(3).tickFormat(""));
  var ay = g.append("g").attr("class","axis").attr("transform","translate("+(p.box[0]-2)+",0)");
  ay.call(d3.axisLeft(y).tickValues(yMax==120 ? yTicksShort : axisTicks).tickSize(5).tickFormat(d3.format(".2f")));
  g.append("text").attr("class","title").attr("x",p.xt[0]).attr("y",p.xt[1]).text("X (m)");
  g.append("text").attr("class","title").attr("transform","translate("+p.yt[0]+","+p.yt[1]+") rotate(-90)").text("Y (m)");

  // legend bar
  var ly = d3.scaleLinear().domain([0,9]).range([p.bar[2],p.bar[3]]);
  var grad = defs.append("linearGradient").attr("id","lg"+n).attr("x1",0).attr("y1",0).attr("x2",0).attr("y2",1);
  grad.selectAll("stop").data(p.ticks).join("stop")
    .attr("offset",function(d,i){ return i/9; })
    .attr("stop-color",function(d){ return colour(d); });
  g.append("rect").attr("x",p.bar[0]).attr("y",p.bar[2]).attr("width",p.bar[1]-p.bar[0]).attr("height",p.bar[3]-p.bar[2])
    .attr("fill","url(#lg"+n+")").attr("stroke","#4c4846").attr("stroke-width",4);
  var lt = g.append("g").selectAll("g").data(p.ticks).join("g")
    .attr("transform",function(d,i){ return "translate(0,"+ly(i)+")"; });
  lt.append("line").attr("x1",p.bar[1]).attr("x2",p.bar[1]+13).attr("stroke","#4c4846").attr("stroke-width",3);
  lt.append("text").attr("class","lg").attr("x",p.lab).attr("dy","0.35em")
    .text(function(d,i){
      var t = d.toFixed(2);
      if (i==0) return "< "+t+" °C";
      if (i==9) return "> "+t+" °C";
      return t+"  °C";
    });
  g.append("text").attr("class","mm").attr("x",p.mm[0]).attr("y",p.mm[1]).attr("dy","0.35em").text("Min: "+p.min+" °C");
  g.append("text").attr("class","mm").attr("x",p.mm[0]).attr("y",p.mm[2]).attr("dy","0.35em").text("Max: "+p.max+" °C");

  // north arrow
  var na = g.append("g").attr("transform","translate("+p.north[0]+","+p.north[1]+")");
  na.append("circle").attr("r",28).attr("fill","#bdb9b4");
  na.append("g").attr("transform","rotate("+p.north[2]+")").call(function(s){
    s.append("path").attr("d","M0,-38L16,37L0,20L-16,37Z").attr("fill","#111");
    s.append("circle").attr("cy",6).attr("r",2.5).attr("fill","#ddd");
  });

  g.append("text").attr("class","cap").attr("x",p.capAt[0]).attr("y",p.capAt[1]).text(p.cap);
});
</script>
</body>
</html>
